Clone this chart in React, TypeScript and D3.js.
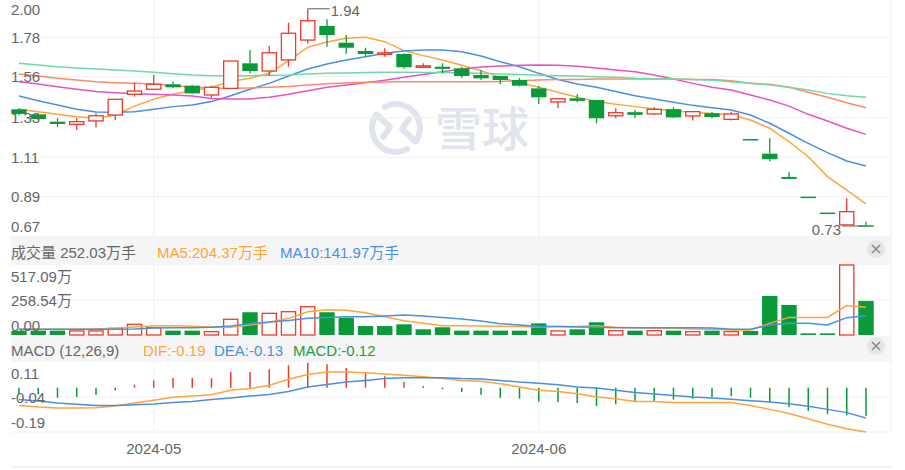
import React from 'react';
import * as d3 from 'd3';

const dates = [
  '2024-04-22', '2024-04-23', '2024-04-24', '2024-04-25', '2024-04-26', '2024-04-29', '2024-04-30',
  '2024-05-06', '2024-05-07', '2024-05-08', '2024-05-09', '2024-05-10', '2024-05-13', '2024-05-14',
  '2024-05-15', '2024-05-16', '2024-05-17', '2024-05-20', '2024-05-21', '2024-05-22', '2024-05-23',
  '2024-05-24', '2024-05-27', '2024-05-28', '2024-05-29', '2024-05-30', '2024-05-31',
  '2024-06-03', '2024-06-04', '2024-06-05', '2024-06-06', '2024-06-07', '2024-06-11', '2024-06-12',
  '2024-06-13', '2024-06-14', '2024-06-17', '2024-06-18', '2024-06-19', '2024-06-20', '2024-06-21',
  '2024-06-24', '2024-06-25', '2024-06-26', '2024-06-27',
];

const open = [
  1.378, 1.350, 1.309, 1.294, 1.313, 1.346, 1.462, 1.490, 1.518, 1.510,
  1.458, 1.495, 1.635, 1.592, 1.654, 1.765, 1.844, 1.750, 1.704, 1.690,
  1.687, 1.619, 1.616, 1.607, 1.570, 1.564, 1.542, 1.495, 1.419, 1.440,
  1.430, 1.342, 1.362, 1.352, 1.379, 1.341, 1.356, 1.322, 1.212, 1.130,
  1.000, 0.890, 0.801, 0.732, 0.730,
];
const close = [
  1.352, 1.323, 1.296, 1.309, 1.342, 1.434, 1.480, 1.518, 1.501, 1.467,
  1.501, 1.648, 1.592, 1.694, 1.803, 1.873, 1.793, 1.722, 1.687, 1.693,
  1.613, 1.621, 1.604, 1.564, 1.551, 1.542, 1.510, 1.445, 1.437, 1.425,
  1.328, 1.359, 1.347, 1.378, 1.333, 1.365, 1.335, 1.352, 1.212, 1.099,
  0.989, 0.890, 0.801, 0.806, 0.726,
];
const high = [
  1.385, 1.356, 1.328, 1.328, 1.356, 1.434, 1.527, 1.570, 1.532, 1.515,
  1.510, 1.648, 1.709, 1.732, 1.862, 1.940, 1.881, 1.793, 1.722, 1.719,
  1.690, 1.635, 1.635, 1.616, 1.598, 1.566, 1.553, 1.508, 1.440, 1.462,
  1.430, 1.384, 1.375, 1.390, 1.390, 1.368, 1.362, 1.365, 1.212, 1.216,
  1.028, 0.890, 0.801, 0.881, 0.749,
];
const low = [
  1.345, 1.318, 1.278, 1.262, 1.277, 1.318, 1.448, 1.490, 1.495, 1.462,
  1.443, 1.495, 1.579, 1.564, 1.616, 1.747, 1.728, 1.689, 1.672, 1.672,
  1.605, 1.619, 1.580, 1.555, 1.542, 1.518, 1.505, 1.408, 1.384, 1.418,
  1.300, 1.328, 1.330, 1.345, 1.328, 1.315, 1.330, 1.315, 1.212, 1.088,
  0.989, 0.890, 0.801, 0.732, 0.726,
];

const ma5 = [
  1.378, 1.365, 1.350, 1.337, 1.328, 1.346, 1.396, 1.434, 1.463, 1.482,
  1.501, 1.534, 1.551, 1.579, 1.650, 1.724, 1.754, 1.775, 1.780, 1.756,
  1.706, 1.678, 1.653, 1.624, 1.594, 1.557, 1.527, 1.501, 1.473, 1.445,
  1.422, 1.406, 1.393, 1.380, 1.369, 1.361, 1.354, 1.348, 1.318, 1.272,
  1.197, 1.113, 1.002, 0.927, 0.849,
];
const ma10 = [
  1.452, 1.426, 1.402, 1.378, 1.363, 1.361, 1.365, 1.378, 1.393, 1.402,
  1.421, 1.454, 1.490, 1.523, 1.564, 1.603, 1.631, 1.653, 1.672, 1.691,
  1.704, 1.709, 1.709, 1.700, 1.676, 1.644, 1.616, 1.579, 1.545, 1.519,
  1.501, 1.477, 1.454, 1.436, 1.417, 1.400, 1.387, 1.374, 1.346, 1.300,
  1.244, 1.188, 1.136, 1.089, 1.061,
];
const ma20 = [
  1.532, 1.519, 1.504, 1.490, 1.478, 1.471, 1.465, 1.462, 1.458, 1.452,
  1.439, 1.436, 1.436, 1.445, 1.462, 1.482, 1.501, 1.514, 1.527, 1.540,
  1.557, 1.573, 1.588, 1.603, 1.614, 1.620, 1.624, 1.626, 1.624, 1.618,
  1.609, 1.598, 1.588, 1.570, 1.547, 1.523, 1.501, 1.486, 1.458, 1.430,
  1.396, 1.350, 1.313, 1.272, 1.238,
];
const ma30 = [
  1.575, 1.564, 1.551, 1.542, 1.532, 1.527, 1.523, 1.519, 1.510, 1.503,
  1.497, 1.495, 1.497, 1.501, 1.506, 1.514, 1.521, 1.525, 1.529, 1.531,
  1.532, 1.532, 1.532, 1.532, 1.532, 1.534, 1.538, 1.542, 1.544, 1.545,
  1.547, 1.547, 1.547, 1.547, 1.547, 1.545, 1.544, 1.538, 1.523, 1.518,
  1.501, 1.473, 1.445, 1.415, 1.387,
];
const ma60 = [
  1.635, 1.626, 1.616, 1.609, 1.603, 1.598, 1.592, 1.585, 1.577, 1.570,
  1.566, 1.564, 1.566, 1.568, 1.570, 1.575, 1.579, 1.581, 1.583, 1.585,
  1.585, 1.583, 1.583, 1.581, 1.579, 1.575, 1.572, 1.568, 1.566, 1.564,
  1.560, 1.557, 1.551, 1.549, 1.547, 1.544, 1.540, 1.532, 1.523, 1.514,
  1.501, 1.486, 1.467, 1.454, 1.445,
];

// volume in 万手
const volume = [
  32, 32, 32, 30, 30, 49, 79, 54, 32, 32,
  25, 116, 168, 160, 172, 209, 168, 128, 66, 66,
  79, 42, 57, 32, 32, 32, 32, 86, 30, 42,
  94, 32, 32, 32, 32, 25, 32, 25, 30, 288,
  222, 12, 12, 517.09, 252.03,
];
const volMa5 = [
  42, 42, 42, 42, 44, 49, 59, 69, 69, 64,
  59, 57, 74, 94, 123, 172, 187, 182, 165, 135,
  106, 86, 69, 69, 66, 64, 62, 59, 62, 62,
  69, 57, 54, 49, 49, 44, 42, 37, 37, 86,
  130, 130, 130, 217, 204.37,
];
const volMa10 = [
  42, 42, 42, 42, 42, 42, 44, 52, 54, 54,
  57, 66, 84, 96, 108, 123, 130, 135, 135, 140,
  148, 140, 130, 118, 103, 84, 74, 62, 62, 59,
  57, 54, 54, 54, 54, 54, 52, 42, 42, 74,
  86, 86, 74, 128, 141.97,
];
const upVolumeDays = [3, 4, 5, 6, 7, 10, 11, 13, 14, 15, 28, 31, 33, 35, 37, 43];

const dif = [
  -0.076, -0.083, -0.087, -0.087, -0.086, -0.079, -0.066, -0.054, -0.041, -0.036,
  -0.030, -0.011, -0.004, 0.010, 0.036, 0.056, 0.067, 0.067, 0.064, 0.059,
  0.053, 0.047, 0.039, 0.031, 0.027, 0.017, 0.003, -0.011, -0.016, -0.026,
  -0.040, -0.047, -0.059, -0.059, -0.064, -0.064, -0.064, -0.064, -0.076, -0.093,
  -0.111, -0.133, -0.157, -0.176, -0.190,
];
const dea = [
  -0.051, -0.057, -0.066, -0.071, -0.076, -0.076, -0.073, -0.070, -0.064, -0.059,
  -0.051, -0.044, -0.036, -0.029, -0.016, 0.003, 0.014, 0.024, 0.031, 0.039,
  0.043, 0.043, 0.043, 0.039, 0.037, 0.031, 0.024, 0.019, 0.013, 0.003,
  -0.001, -0.011, -0.021, -0.027, -0.034, -0.040, -0.044, -0.050, -0.056, -0.061,
  -0.069, -0.080, -0.093, -0.107, -0.130,
];
const macd = [
  -0.026, -0.028, -0.043, -0.040, -0.030, -0.011, 0.013, 0.031, 0.041, 0.041,
  0.041, 0.067, 0.067, 0.079, 0.096, 0.107, 0.100, 0.084, 0.067, 0.049,
  0.024, 0.007, -0.007, -0.019, -0.030, -0.043, -0.047, -0.059, -0.061, -0.066,
  -0.079, -0.071, -0.061, -0.057, -0.051, -0.047, -0.040, -0.036, -0.043, -0.061,
  -0.083, -0.100, -0.114, -0.118, -0.120,
];

const priceTicks = [2.0, 1.78, 1.56, 1.33, 1.11, 0.89, 0.67];
const volumeTicks = [517.09, 258.54, 0];
const macdTicks = [0.11, -0.04, -0.19];

const RED = '#ec3a2c';
const GREEN = '#0a9a3a';
const ORANGE = '#ffa43a';
const BLUE = '#4a8fe3';
const MA_COLORS = [ORANGE, BLUE, '#e752c6', '#ff8a6a', '#72d8a8'];
const TEXT = '#666';
const GRID = '#f0f0f0';
const BAND = '#f5f5f5';
const MARK = '#e0e4ec';
const FONT = '"Liberation Sans", Arial, "Noto Sans CJK SC", sans-serif';

const X0 = 11;
const X1 = 891;

const fmt2 = (v: number) => v.toFixed(2);

// watermark logo: two interlocking hooks inside a ring
const logoPath = (cx: number, cy: number, r: number) => {
  const pt = (deg: number) => [cx + r * Math.cos((deg * Math.PI) / 180), cy + r * Math.sin((deg * Math.PI) / 180)];
  const [ax, ay] = pt(-118);
  const [bx, by] = pt(35);
  const [cx2, cy2] = pt(62);
  const [dx, dy] = pt(215);
  return (
    `M${ax},${ay} A${r},${r} 0 0,1 ${bx},${by} L${cx + 6},${cy + 1} L${cx + 13},${cy - 9}` +
    ` M${cx2},${cy2} A${r},${r} 0 0,1 ${dx},${dy} L${cx - 6},${cy - 1} L${cx - 13},${cy + 9}`
  );
};

const App: React.FC = () => {
  const x = d3.scalePoint<string>().domain(dates).range([19, 866]);
  const bw = x.step() * 0.8;

  const yP = d3.scaleLinear().domain([0.67, 2.0]).range([236, -2]);
  const yV = d3.scaleLinear().domain([0, 517.09]).range([335, 265]);
  const yM = d3.scaleLinear().domain([-0.19, 0.11]).range([432, 362]);

  const isUp = (i: number) =>
    close[i] > open[i] ? true : close[i] < open[i] ? false : i > 0 && close[i] >= close[i - 1];

  const lineOn = (scale: d3.ScaleLinear<number, number>) =>
    d3.line<number>().x((_d, i) => x(dates[i])!).y(d => scale(d));

  const priceLine = lineOn(yP);
  const volLine = lineOn(yV);
  const macdLine = lineOn(yM);

  const monthStarts = dates
    .map((d, i) => ({ d, i }))
    .filter(({ d, i }) => i > 0 && d.slice(0, 7) !== dates[i - 1].slice(0, 7));

  const hiIdx = d3.maxIndex(high);
  let loIdx = 0;
  low.forEach((v, i) => { if (v <= low[loIdx]) loIdx = i; });

  const last = dates.length - 1;

  const tickLabelY = (y: number, k: number, n: number) =>
    k === 0 ? y + 11.5 : k === n - 1 ? y - 10 : y;

  const closeBtn = (cy: number) => (
    <g>
      <circle cx={876} cy={cy} r={9} fill="#e6e6e6" />
      <path d={`M${872},${cy - 4}L${880},${cy + 4}M${880},${cy - 4}L${872},${cy + 4}`} stroke="#888" strokeWidth={1.5} />
    </g>
  );

  return (
    <div style={{ position: 'absolute', left: 0, top: 0 }}>
      <svg width={905} height={470} style={{ display: 'block', fontFamily: FONT }}>
        <rect width={905} height={470} fill="#fff" />

        {/* watermark */}
        <path d={logoPath(396, 128, 24)} fill="none" stroke={MARK} strokeWidth={6} strokeLinecap="round" strokeLinejoin="round" />
        <text x={435} y={146} fontSize={47} fontWeight={500} fill={MARK} fontFamily='"Noto Sans CJK SC", sans-serif'>雪球</text>

        {/* grid */}
        {priceTicks.slice(1, -1).map(t => (
          <line key={t} x1={X0} x2={X1} y1={yP(t)} y2={yP(t)} stroke={GRID} />
        ))}
        {monthStarts.map(({ d }) => (
          <g key={d} stroke={GRID}>
            <line x1={x(d)} x2={x(d)} y1={0} y2={236} />
            <line x1={x(d)} x2={x(d)} y1={265} y2={335} />
            <line x1={x(d)} x2={x(d)} y1={362} y2={432} />
          </g>
        ))}
        <line x1={X1} x2={X1} y1={0} y2={432} stroke={GRID} />
        <line x1={X0} x2={X1} y1={yV(258.54)} y2={yV(258.54)} stroke={GRID} />
        <line x1={X0} x2={X1} y1={yM(-0.04)} y2={yM(-0.04)} stroke={GRID} />
        <line x1={X0} x2={X1} y1={432} y2={432} stroke={GRID} />
        <line x1={X0} x2={X1} y1={467} y2={467} stroke="#e8e8e8" />

        {/* moving averages */}
        {[ma5, ma10, ma20, ma30, ma60].map((s, k) => (
          <path key={k} d={priceLine(s)!} fill="none" stroke={MA_COLORS[k]} strokeWidth={1.5} />
        ))}

        {/* candles */}
        {dates.map((d, i) => {
          const cx = x(d)!;
          const up = isUp(i);
          const c = up ? RED : GREEN;
          const top = yP(Math.max(open[i], close[i]));
          const bot = yP(Math.min(open[i], close[i]));
          const h = Math.max(bot - top, 1.5);
          return (
            <g key={d}>
              <line x1={cx} x2={cx} y1={yP(high[i])} y2={top} stroke={c} strokeWidth={1.3} />
              <line x1={cx} x2={cx} y1={top + h} y2={Math.max(yP(low[i]), top + h)} stroke={c} strokeWidth={1.3} />
              {up ? (
                <rect x={cx - bw / 2 + 0.6} y={top} width={bw - 1.2} height={Math.max(h, 1.2)} fill="#fff" stroke={c} strokeWidth={1.3} />
              ) : (
                <rect x={cx - bw / 2} y={top} width={bw} height={h} fill={c} />
              )}
            </g>
          );
        })}

        {/* high / low markers */}
        <line x1={x(dates[hiIdx])} x2={x(dates[hiIdx])! + 22} y1={yP(high[hiIdx])} y2={yP(high[hiIdx])} stroke="#777" strokeWidth={1.2} />
        <text x={x(dates[hiIdx])! + 23} y={yP(high[hiIdx]) + 1.5} fontSize={15} fill={TEXT} dominantBaseline="central">{fmt2(high[hiIdx])}</text>
        <line x1={x(dates[loIdx])! - 24} x2={x(dates[loIdx])} y1={yP(low[loIdx])} y2={yP(low[loIdx])} stroke="#777" strokeWidth={1.2} />
        <text x={x(dates[loIdx])! - 25} y={yP(low[loIdx]) + 4} fontSize={15} fill={TEXT} textAnchor="end" dominantBaseline="central">{fmt2(low[loIdx])}</text>

        {/* price axis labels */}
        {priceTicks.map((t, k) => (
          <text key={t} x={X0} y={tickLabelY(yP(t), k, priceTicks.length)} fontSize={15} fill={TEXT} dominantBaseline="central">{fmt2(t)}</text>
        ))}

        {/* volume panel */}
        <rect x={X0} y={236} width={X1 - X0} height={29} fill={BAND} />
        <text y={251.5} fontSize={15} dominantBaseline="central">
          <tspan x={X0} fill={TEXT}>成交量 {fmt2(volume[last])}万手</tspan>
          <tspan x={157} fill={ORANGE}>MA5:{fmt2(volMa5[last])}万手</tspan>
          <tspan x={280} fill={BLUE}>MA10:{fmt2(volMa10[last])}万手</tspan>
        </text>
        {closeBtn(249)}
        {dates.map((d, i) => {
          const cx = x(d)!;
          const up = upVolumeDays.includes(i);
          const top = yV(volume[i]);
          return up ? (
            <rect key={d} x={cx - bw / 2 + 0.6} y={top} width={bw - 1.2} height={335 - top} fill="#fff" stroke={RED} strokeWidth={1.3} />
          ) : (
            <rect key={d} x={cx - bw / 2} y={top} width={bw} height={335 - top} fill={GREEN} />
          );
        })}
        <path d={volLine(volMa5)!} fill="none" stroke={ORANGE} strokeWidth={1.5} />
        <path d={volLine(volMa10)!} fill="none" stroke={BLUE} strokeWidth={1.5} />
        {volumeTicks.map((t, k) => (
          <text key={t} x={X0} y={tickLabelY(yV(t), k, volumeTicks.length)} fontSize={15} fill={TEXT} dominantBaseline="central">
            {t === 0 ? fmt2(t) : `${fmt2(t)}万`}
          </text>
        ))}

        {/* MACD panel */}
        <rect x={X0} y={336} width={X1 - X0} height={26} fill={BAND} />
        <text y={349.5} fontSize={15} dominantBaseline="central">
          <tspan x={X0} fill={TEXT}>MACD (12,26,9)</tspan>
          <tspan x={143} fill={ORANGE}>DIF:{fmt2(dif[last])}</tspan>
          <tspan x={214} fill={BLUE}>DEA:{fmt2(dea[last])}</tspan>
          <tspan x={293} fill="#1a9e45">MACD:{fmt2(macd[last])}</tspan>
        </text>
        {closeBtn(346)}
        {dates.map((d, i) => (
          <line key={d} x1={x(d)} x2={x(d)} y1={yM(0)} y2={yM(macd[i])} stroke={macd[i] >= 0 ? RED : GREEN} strokeWidth={1.5} />
        ))}
        <path d={macdLine(dif)!} fill="none" stroke={ORANGE} strokeWidth={1.5} />
        <path d={macdLine(dea)!} fill="none" stroke={BLUE} strokeWidth={1.5} />
        {macdTicks.map((t, k) => (
          <text key={t} x={X0} y={tickLabelY(yM(t), k, macdTicks.length)} fontSize={15} fill={TEXT} dominantBaseline="central">{fmt2(t)}</text>
        ))}

        {/* x axis */}
        {monthStarts.map(({ d }) => (
          <text key={d} x={x(d)} y={448.5} fontSize={15} fill={TEXT} textAnchor="middle" dominantBaseline="central">{d.slice(0, 7)}</text>
        ))}
      </svg>
    </div>
  );
};

export default App;
